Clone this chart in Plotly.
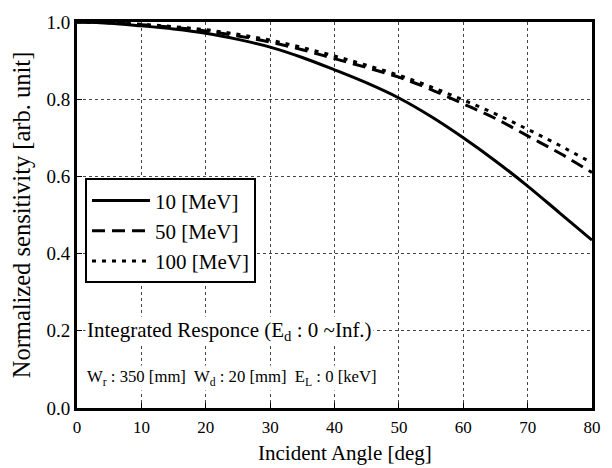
import plotly.graph_objects as go

angles = [0, 5, 10, 15, 20, 25, 30, 35, 40, 45, 50, 55, 60, 65, 70, 75, 80]
sens_10 = [1.0, 0.997, 0.99, 0.982, 0.971, 0.955, 0.935, 0.908, 0.876, 0.842, 0.803, 0.755, 0.700, 0.640, 0.575, 0.505, 0.435]
sens_50 = [1.0, 0.998, 0.993, 0.986, 0.977, 0.964, 0.948, 0.928, 0.905, 0.882, 0.857, 0.825, 0.788, 0.750, 0.705, 0.660, 0.610]
sens_100 = [1.0, 0.998, 0.994, 0.988, 0.980, 0.968, 0.953, 0.934, 0.912, 0.888, 0.862, 0.832, 0.798, 0.762, 0.722, 0.680, 0.635]
series_names = ["10 [MeV]", "50 [MeV]", "100 [MeV]"]
x_ticks = [0, 10, 20, 30, 40, 50, 60, 70, 80]
y_ticks = [0.0, 0.2, 0.4, 0.6, 0.8, 1.0]

FONT = "Liberation Serif"

fig = go.Figure()
for vals, name, dash in zip([sens_10, sens_50, sens_100], series_names,
                            ["solid", "13px,7px", "4px,6px"]):
    fig.add_trace(go.Scatter(x=angles, y=vals, mode="lines", name=name,
                             line=dict(color="black", width=3, dash=dash, shape="spline")))

fig.add_annotation(x=0.0155, y=0.2, xref="paper", yref="y", xanchor="left", yanchor="middle",
                   text="Integrated Responce (E<sub>d</sub> : 0 ~Inf.)", showarrow=False,
                   font=dict(family=FONT, size=21, color="black"), bgcolor="white")
fig.add_annotation(x=0.0155, y=0.078, xref="paper", yref="y", xanchor="left", yanchor="middle",
                   text="W<sub>r</sub> : 350 [mm]  W<sub>d</sub> : 20 [mm]  E<sub>L</sub> : 0 [keV]",
                   showarrow=False, font=dict(family=FONT, size=16.7, color="black"), bgcolor="white")
# x-axis title (slightly right of centre, as in the reference)
fig.add_annotation(x=0.52, y=-0.1166, xref="paper", yref="paper", xanchor="center", yanchor="middle",
                   text="Incident Angle [deg]", showarrow=False, borderpad=0,
                   font=dict(family=FONT, size=21, color="black"))

axis_common = dict(showline=True, linecolor="black", linewidth=3, mirror=True,
                   showgrid=True, gridcolor="#444", gridwidth=1, griddash="dot",
                   ticks="inside", ticklen=5, tickcolor="black", zeroline=False,
                   automargin=False)

fig.update_layout(
    width=604, height=460,
    margin=dict(l=69, r=20, t=14, b=60),
    paper_bgcolor="white", plot_bgcolor="white",
    font=dict(family=FONT, color="black"),
    xaxis=dict(range=[0, 80], tickvals=x_ticks, ticktext=[str(v) for v in x_ticks],
               tickfont=dict(family=FONT, size=17, color="black"), ticklabelstandoff=2,
               **axis_common),
    yaxis=dict(range=[0, 1.0], tickvals=y_ticks, ticktext=[f"{v:.1f}" for v in y_ticks],
               tickfont=dict(family=FONT, size=19, color="black"),
               title=dict(text="Normalized sensitivity [arb. unit]", font=dict(family=FONT, size=24.5), standoff=13),
               **axis_common),
    legend=dict(x=0.0155, y=0.595, xanchor="left", yanchor="top", bgcolor="white",
                bordercolor="black", borderwidth=2, font=dict(family=FONT, size=21),
                tracegroupgap=0, itemwidth=58),
    showlegend=True,
)

fig.write_html("out.html")
